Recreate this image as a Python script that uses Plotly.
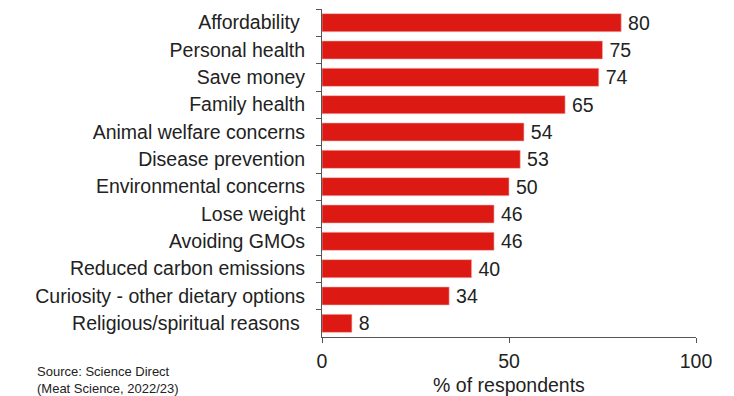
import plotly.graph_objects as go

categories = [
    "Affordability ",
    "Personal health",
    "Save money",
    "Family health",
    "Animal welfare concerns",
    "Disease prevention",
    "Environmental concerns",
    "Lose weight",
    "Avoiding GMOs",
    "Reduced carbon emissions",
    "Curiosity - other dietary options",
    "Religious/spiritual reasons ",
]
values = [80, 75, 74, 65, 54, 53, 50, 46, 46, 40, 34, 8]
x_ticks = [0, 50, 100]

FONT = "Arial, Liberation Sans, sans-serif"
TEXT = "#222222"
AXIS = "#555555"
SIZE = 19.5

fig = go.Figure(
    go.Bar(
        x=values,
        y=categories,
        orientation="h",
        marker=dict(color="#DC1912", line=dict(color="#F3B5B2", width=0.6)),
        text=values,
        texttemplate="\u2009%{text}",
        textposition="outside",
        constraintext="none",
        textfont=dict(family=FONT, size=SIZE, color=TEXT),
        cliponaxis=False,
        width=0.66,
    )
)

fig.update_layout(
    width=734,
    height=396,
    margin=dict(l=322, r=38, t=9, b=59),
    paper_bgcolor="white",
    plot_bgcolor="white",
    showlegend=False,
    font=dict(family=FONT, size=SIZE, color=TEXT),
    xaxis=dict(
        range=[0, 100],
        tickvals=x_ticks,
        ticks="outside",
        ticklen=5,
        tickcolor=AXIS,
        showline=True,
        linecolor=AXIS,
        linewidth=1,
        showgrid=False,
        zeroline=False,
        automargin=False,
        tickfont=dict(size=SIZE, color=TEXT),
        ticklabelstandoff=2,
        title=dict(text="% of respondents", font=dict(size=SIZE, color=TEXT)),
    ),
    yaxis=dict(
        autorange="reversed",
        tickson="boundaries",
        ticks="outside",
        ticklen=5,
        tickcolor=AXIS,
        showline=True,
        linecolor=AXIS,
        linewidth=1,
        showgrid=False,
        automargin=False,
        tickfont=dict(size=SIZE, color=TEXT),
        ticklabelstandoff=12,
    ),
    annotations=[
        dict(
            text="Source: Science Direct<br>(Meat Science, 2022/23)",
            xref="paper",
            yref="paper",
            x=-0.767,
            y=-0.077,
            xanchor="left",
            yanchor="top",
            align="left",
            showarrow=False,
            font=dict(family=FONT, size=13, color=TEXT),
        )
    ],
)

fig.write_html("out.html")
